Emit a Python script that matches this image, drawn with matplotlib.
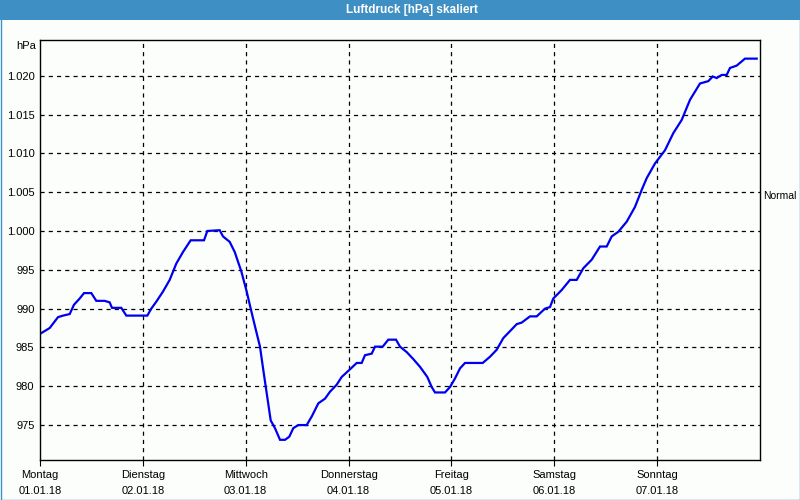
import matplotlib
matplotlib.use("Agg")
import matplotlib.pyplot as plt
from matplotlib.patches import Rectangle

plt.rcParams["font.family"] = ["Liberation Sans", "DejaVu Sans"]

# hours since Monday 01.01.18 00:00
hours = [0.16, 2.26, 4.2, 5.37, 6.93, 7.93, 9.26, 10.27, 11.97, 13.14, 15.1, 16.26, 16.8,
         18.97, 20.14, 25.04, 25.97, 27.14, 28.7, 30.26, 31.8, 33.37, 35.16, 38.27, 39.04,
         41.93, 42.7, 44.26, 45.43, 46.97, 48.23, 49.16, 50.17, 51.33, 52.1, 52.9, 53.83,
         54.83, 56.0, 57.17, 58.17, 59.1, 60.27, 62.23, 63.4, 64.94, 66.5, 67.67, 69.23,
         70.4, 72.17, 73.9, 75.06, 75.83, 77.4, 78.17, 79.96, 81.27, 83.07, 84.0, 85.56,
         87.1, 88.67, 90.37, 91.4, 92.17, 94.5, 95.67, 96.83, 98.0, 99.17, 103.3, 105.0,
         106.56, 108.1, 109.67, 111.23, 112.4, 114.33, 115.9, 117.83, 119.0, 119.77, 121.73,
         123.67, 125.23, 126.77, 128.73, 130.67, 132.23, 133.4, 134.94, 136.9, 138.83, 140.4,
         141.56, 143.5, 145.83, 147.77, 149.73, 151.67, 154.0, 155.94, 156.97, 157.9, 159.06,
         160.23, 161.0, 162.56, 164.5, 167.23]
pressure = [986.8, 987.5, 988.9, 989.1, 989.3, 990.5, 991.3, 992.0, 992.0, 991.0, 991.0, 990.8,
            990.1, 990.1, 989.1, 989.1, 990.0, 990.9, 992.2, 993.7, 995.8, 997.3, 998.8, 998.8,
            1000.0, 1000.1, 999.3, 998.6, 997.3, 994.8, 992.2, 990.0, 987.7, 985.1, 982.1, 979.1,
            975.6, 974.6, 973.1, 973.1, 973.5, 974.6, 975.0, 975.0, 976.1, 977.8, 978.4, 979.3,
            980.2, 981.2, 982.1, 983.0, 983.0, 984.0, 984.2, 985.1, 985.1, 986.0, 986.0, 985.1,
            984.4, 983.5, 982.5, 981.2, 979.9, 979.2, 979.2, 979.9, 981.0, 982.3, 983.0, 983.0,
            983.8, 984.7, 986.2, 987.1, 988.0, 988.2, 989.0, 989.0, 990.0, 990.2, 991.3, 992.4,
            993.7, 993.7, 995.2, 996.3, 998.0, 998.0, 999.3, 999.9, 1001.2, 1003.1, 1005.3,
            1006.8, 1008.7, 1010.4, 1012.6, 1014.3, 1016.9, 1019.0, 1019.3, 1019.9, 1019.7,
            1020.1, 1020.1, 1021.0, 1021.3, 1022.2, 1022.2]

day_names = ["Montag", "Dienstag", "Mittwoch", "Donnerstag", "Freitag", "Samstag", "Sonntag"]
day_dates = ["01.01.18", "02.01.18", "03.01.18", "04.01.18", "05.01.18", "06.01.18", "07.01.18"]
y_ticks = [975, 980, 985, 990, 995, 1000, 1005, 1010, 1015, 1020]

title = "Luftdruck [hPa] skaliert"
blue = "#3d8fc4"

fig = plt.figure(figsize=(8, 5), dpi=100, facecolor="#fcfefc")
# title bar and border
fig.patches.append(Rectangle((0, 1 - 20 / 500), 1, 20 / 500, transform=fig.transFigure,
                             facecolor=blue, edgecolor="none", zorder=0))
fig.patches.append(Rectangle((0.5 / 800, 0.5 / 500), 1 - 1 / 800, 1 - 1 / 500,
                             transform=fig.transFigure, facecolor="none",
                             edgecolor=blue, linewidth=1.0, zorder=1))
fig.text(412 / 800, 1 - 10 / 500, title, color="white", fontsize=8.5, fontweight="bold",
         ha="center", va="center")

ax = fig.add_axes([40 / 800, 40 / 500, 720 / 800, 420 / 500])
ax.set_facecolor("#fcfefc")
ax.plot(hours, pressure, color="#0000f0", linewidth=1.6, solid_joinstyle="miter")

ax.set_xlim(0, 168)
ax.set_ylim(970.5, 1024.6)

day_ticks = [24 * i for i in range(7)]
ax.set_xticks(day_ticks)
ax.set_xticklabels([f"{n}\n{d}" for n, d in zip(day_names, day_dates)],
                   fontsize=8, linespacing=1.75)
ax.set_yticks(y_ticks)
ax.set_yticklabels([f"{v // 1000}.{v % 1000:03d}" if v >= 1000 else str(v) for v in y_ticks],
                   fontsize=8)
ax.tick_params(axis="x", length=4, width=0.8, pad=3, colors="black")
ax.tick_params(axis="y", length=0, pad=4, colors="black")

for s in ax.spines.values():
    s.set_color("black")
    s.set_linewidth(1.0)

for x in day_ticks[1:]:
    ax.axvline(x, color="black", linewidth=0.9, linestyle=(0, (3.3, 3.3)), zorder=0)
for y in y_ticks:
    ax.axhline(y, color="black", linewidth=0.9, linestyle=(0, (3.3, 3.3)), zorder=0)

ax.text(-4 / 720 * 168, 1024.6 - 6 / 7.76, "hPa", fontsize=8, ha="right", va="center",
        transform=ax.transData, clip_on=False)
ax.text(1.004, 1004.5, "Normal", fontsize=7.5, ha="left", va="center",
        transform=ax.get_yaxis_transform(), clip_on=False)

fig.savefig("out.png", dpi=100, facecolor=fig.get_facecolor())
